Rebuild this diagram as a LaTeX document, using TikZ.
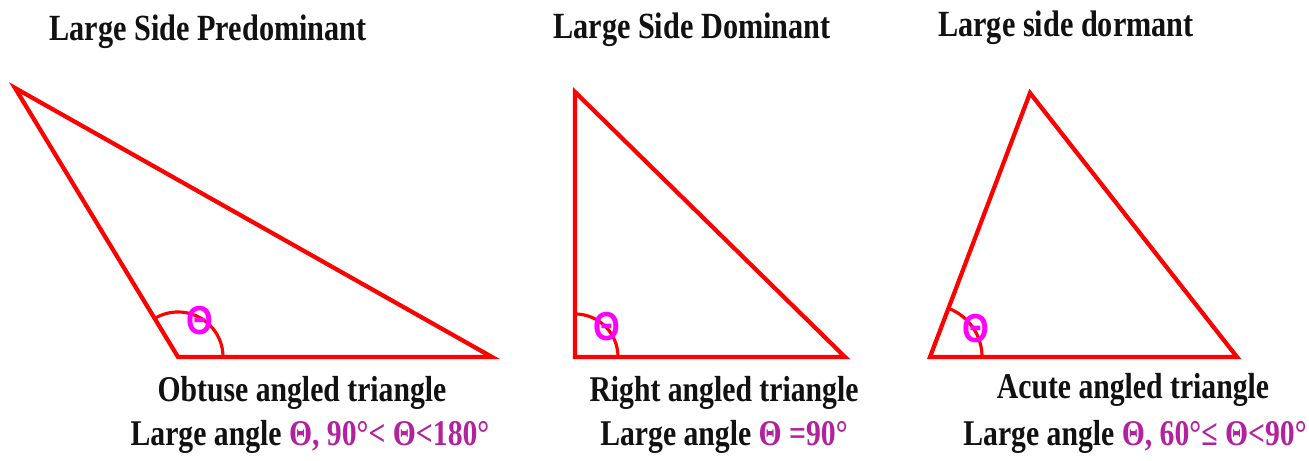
\documentclass[tikz,border=0pt]{standalone}
\usepackage{fontspec}
\usepackage{xcolor}
\usetikzlibrary{calc}
\setmainfont{Liberation Serif}
\newfontfamily\capfont[FakeStretch=0.82]{Liberation Serif}
\newfontfamily\markfont[FakeStretch=0.85]{Liberation Sans}
\definecolor{Edge}{HTML}{FF0000}
\definecolor{Mark}{HTML}{FF00FF}
\definecolor{ThetaInk}{HTML}{B4219F}
\definecolor{Ink}{HTML}{111111}

\begin{document}
\begin{tikzpicture}[x=0.01cm,y=0.01cm,tri/.style={draw=Edge,line width=1.2pt,line join=miter},anglemark/.style={draw=Edge,line width=0.9pt},title/.style={text=Ink,font=\capfont\bfseries\fontsize{10.5}{12}\selectfont,inner sep=0pt},caption/.style={text=Ink,font=\capfont\bfseries\fontsize{10.3}{12}\selectfont,inner sep=0pt},anglelabel/.style={text=Mark,font=\markfont\bfseries\fontsize{11.5}{12}\selectfont,inner sep=0pt}]
\useasboundingbox (0,0) rectangle (1309,461);\fill[white] (0,0) rectangle (1309,461);
\coordinate (A1) at (15,373);\coordinate (B1) at (178,104);\coordinate (C1) at (492,104);
\coordinate (A2) at (575,369);\coordinate (B2) at (575,104);\coordinate (C2) at (845,104);
\coordinate (A3) at (1030,368);\coordinate (B3) at (930,104);\coordinate (C3) at (1237,104);
\draw[tri] (A1)--(B1)--(C1)--cycle;\draw[tri] (A2)--(B2)--(C2)--cycle;\draw[tri] (A3)--(B3)--(C3)--cycle;
\draw[anglemark] (B1) ++(0:0.45cm) arc[start angle=0,end angle=121,radius=0.45cm];\node[anglelabel] (M1) at ($(B1)+(22,36)$) {Θ};
\draw[anglemark] (B2) ++(0:0.43cm) arc[start angle=0,end angle=90,radius=0.43cm];\node[anglelabel] (M2) at ($(B2)+(32,30)$) {Θ};
\draw[anglemark] (B3) ++(0:0.52cm) arc[start angle=0,end angle=69,radius=0.52cm];\node[anglelabel] (M3) at ($(B3)+(46,28)$) {Θ};
\node[title] (T1) at (208,429) {Large Side Predominant};\node[title] (T2) at (692,431) {Large Side Dominant};\node[title] (T3) at (1066,433) {Large side dormant};
\node[caption] (N1) at (302,68) {Obtuse  angled triangle};\node[caption] (N2) at (724,68) {Right angled triangle};\node[caption] (N3) at (1133,71) {Acute  angled triangle};
\node[caption] (L1) at (310,24) {Large angle {\color{ThetaInk}Θ, 90°< Θ<180°}};\node[caption] (L2) at (724,24) {Large angle {\color{ThetaInk}Θ =90°}};\node[caption] (L3) at (1135,24) {Large angle {\color{ThetaInk}Θ, 60°≤ Θ<90°}};
\end{tikzpicture}
\end{document}
